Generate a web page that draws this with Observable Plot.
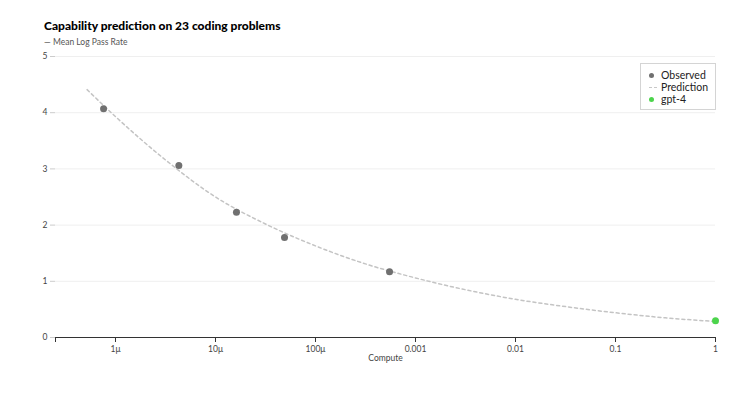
<!DOCTYPE html>
<html>
<head>
<meta charset="utf-8">
<script src="https://cdn.jsdelivr.net/npm/d3@7"></script>
<script src="https://cdn.jsdelivr.net/npm/@observablehq/plot@0.6"></script>
<style>
  html, body { margin: 0; padding: 0; background: #fff; }
  #wrap { position: relative; width: 754px; height: 393px; font-family: Lato, "Open Sans", sans-serif; }
  #title { position: absolute; left: 44px; top: 18px; font-size: 12px; font-weight: 900; color: #000; white-space: nowrap; }
  #subtitle { position: absolute; left: 44px; top: 37px; font-size: 8.5px; color: #555; white-space: nowrap; }
  #chart { position: absolute; left: 0; top: 50px; }
  #legend { position: absolute; left: 640px; top: 63px; width: 76px; height: 47px; border: 1px solid #d4d4d4; background: #fff; font-size: 10.5px; color: #222; box-sizing: border-box; }
  .item { position: absolute; left: 8px; height: 12px; line-height: 12px; white-space: nowrap; }
  .dot { display: inline-block; width: 5px; height: 5px; border-radius: 50%; margin-right: 7px; vertical-align: middle; position: relative; top: -1px; }
  .dash { display: inline-block; width: 8px; height: 0; border-top: 1px dashed #c8c8c8; margin-right: 4px; vertical-align: middle; position: relative; top: -1px; }
</style>
</head>
<body>
<div id="wrap">
  <div id="title">Capability prediction on 23 coding problems</div>
  <div id="subtitle">— Mean Log Pass Rate</div>
  <div id="chart"></div>
  <div id="legend"></div>
</div>
<script>
// Observed points
const observedCompute = [7.6e-7, 4.3e-6, 1.62e-5, 4.9e-5, 5.5e-4];
const observedValue = [4.07, 3.06, 2.23, 1.78, 1.17];
// GPT-4 point
const gpt4Compute = [1];
const gpt4Value = [0.30];
// Prediction curve
const predCompute = [5.2e-7, 1e-6, 3.16e-6, 1e-5, 3.16e-5, 1e-4, 3.16e-4, 1e-3, 3.16e-3, 1e-2, 3.16e-2, 0.1, 0.316, 1];
const predValue = [4.41, 3.93, 3.16, 2.50, 2.02, 1.63, 1.31, 1.06, 0.85, 0.68, 0.55, 0.44, 0.35, 0.285];
// Axis ticks
const xTicks = [2.512e-7, 1e-6, 1e-5, 1e-4, 1e-3, 1e-2, 0.1, 1];
const xTickLabels = ["", "1μ", "10μ", "100μ", "0.001", "0.01", "0.1", "1"];
const yTicks = [0, 1, 2, 3, 4, 5];
const legendLabels = ["Observed", "Prediction", "gpt-4"];
const colors = {observed: "#707070", prediction: "#c4c4c4", gpt4: "#4cd44c"};

const observed = observedCompute.map((c, i) => ({compute: c, value: observedValue[i]}));
const gpt4 = gpt4Compute.map((c, i) => ({compute: c, value: gpt4Value[i]}));
const pred = predCompute.map((c, i) => ({compute: c, value: predValue[i]}));
const labelOf = new Map(xTicks.map((t, i) => [t, xTickLabels[i]]));

const plot = Plot.plot({
  width: 754,
  height: 343,
  marginLeft: 55,
  marginRight: 39,
  marginTop: 6,
  marginBottom: 56,
  style: {fontFamily: "Lato, 'Open Sans', sans-serif", fontSize: "8.5px", color: "#444", background: "transparent"},
  x: {type: "log", domain: [2.512e-7, 1], range: [55, 715]},
  y: {domain: [0, 5]},
  marks: [
    Plot.gridY(yTicks, {stroke: "#efefef", strokeOpacity: 1}),
    Plot.axisY({ticks: yTicks, tickFormat: d => String(d), tickSize: 5, tickPadding: 3, stroke: "#cccccc", label: null, fill: "#444"}),
    Plot.ruleY([0], {stroke: "#333", strokeWidth: 1}),
    Plot.axisX({ticks: xTicks, tickFormat: d => labelOf.get(d) ?? "", tickSize: 5, tickPadding: 3, stroke: "#333", label: null, fill: "#444"}),
    Plot.text(["Compute"], {frameAnchor: "bottom", dy: 23, fill: "#444"}),
    Plot.line(pred, {x: "compute", y: "value", stroke: colors.prediction, strokeWidth: 1.5, strokeDasharray: "3,3", curve: "monotone-x"}),
    Plot.dot(observed, {x: "compute", y: "value", r: 3.5, fill: colors.observed, stroke: "none"}),
    Plot.dot(gpt4, {x: "compute", y: "value", r: 3.5, fill: colors.gpt4, stroke: "none"})
  ]
});
document.getElementById("chart").appendChild(plot);

const legend = document.getElementById("legend");
const markers = [
  `<span class="dot" style="background:${colors.observed}"></span>`,
  `<span class="dash"></span>`,
  `<span class="dot" style="background:${colors.gpt4}"></span>`
];
legendLabels.forEach((l, i) => {
  const d = document.createElement("div");
  d.className = "item";
  d.style.top = (5 + i * 12) + "px";
  d.innerHTML = markers[i] + l;
  legend.appendChild(d);
});
</script>
</body>
</html>
